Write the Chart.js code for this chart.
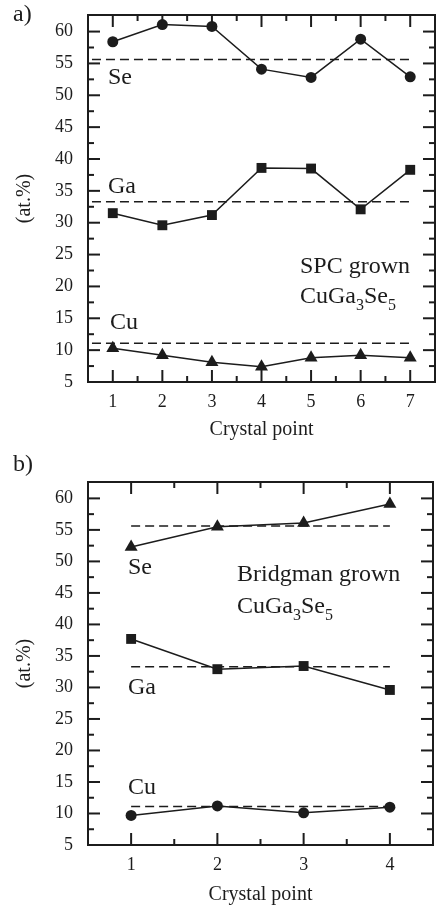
<!DOCTYPE html>
<html>
<head>
<meta charset="utf-8">
<script src="https://cdn.jsdelivr.net/npm/chart.js@4.4.0/dist/chart.umd.min.js"></script>
<style>
  html, body { margin: 0; padding: 0; background: #fff; }
  #wrap { position: relative; width: 436px; height: 907px; }
  .panel { position: absolute; left: 0; width: 436px; }
  #pa { top: 0; height: 450px; }
  #pb { top: 450px; height: 457px; }
</style>
</head>
<body>
<div id="wrap">
  <div class="panel" id="pa"><canvas id="chartA" width="436" height="450"></canvas></div>
  <div class="panel" id="pb"><canvas id="chartB" width="436" height="457"></canvas></div>
</div>
<script>
// a) SPC grown CuGa3Se5, 7 crystal points
const pointsA = [1, 2, 3, 4, 5, 6, 7];
const seA = [58.4, 61.1, 60.8, 54.1, 52.8, 58.8, 52.9];
const gaA = [31.5, 29.6, 31.2, 38.6, 38.5, 32.1, 38.3];
const cuA = [10.3, 9.2, 8.1, 7.4, 8.8, 9.2, 8.8];

// b) Bridgman grown CuGa3Se5, 4 crystal points
const pointsB = [1, 2, 3, 4];
const seB = [52.3, 55.5, 56.1, 59.1];
const gaB = [37.7, 32.9, 33.4, 29.6];
const cuB = [9.7, 11.2, 10.1, 11.0];

// stoichiometric composition (dashed lines) and their x extent
const idealSe = 55.6, idealGa = 33.3, idealCu = 11.1;
const dashA = [0.58, 7];
const dashB = [1, 4];

const yTicks = [5, 10, 15, 20, 25, 30, 35, 40, 45, 50, 55, 60];

const INK = '#1c1c1c';
const SERIF = "'Liberation Serif', 'DejaVu Serif', serif";

function drawRich(ctx, parts, x, y, size) {
  // parts: [text, isSub]
  ctx.textBaseline = 'middle';
  ctx.textAlign = 'left';
  parts.forEach(([t, sub]) => {
    ctx.font = (sub ? Math.round(size * 0.65) : size) + 'px ' + SERIF;
    ctx.fillText(t, x, sub ? y + size * 0.35 : y);
    x += ctx.measureText(t).width;
  });
}

// frame, inward ticks on all four sides, panel texts
const frame = {
  id: 'frame',
  afterDraw(chart, args, o) {
    const { ctx, chartArea: a, scales: { x, y } } = chart;
    ctx.save();
    ctx.strokeStyle = INK;
    ctx.fillStyle = INK;
    ctx.lineWidth = 2;
    ctx.strokeRect(a.left, a.top, a.right - a.left, a.bottom - a.top);
    const tick = (px, py, dx, dy) => {
      ctx.beginPath(); ctx.moveTo(px, py); ctx.lineTo(px + dx, py + dy); ctx.stroke();
    };
    const xt = o.xTicks;
    xt.forEach((v, i) => {
      const px = x.getPixelForValue(v);
      tick(px, a.bottom, 0, -12); tick(px, a.top, 0, 12);
      if (i < xt.length - 1) {
        const m = x.getPixelForValue((v + xt[i + 1]) / 2);
        tick(m, a.bottom, 0, -6); tick(m, a.top, 0, 6);
      }
    });
    yTicks.forEach(v => {
      const py = y.getPixelForValue(v);
      tick(a.left, py, 12, 0); tick(a.right, py, -12, 0);
      if (v + 2.5 < y.max - 0.2) {
        const m = y.getPixelForValue(v + 2.5);
        tick(a.left, m, 6, 0); tick(a.right, m, -6, 0);
      }
    });
    o.texts.forEach(t => drawRich(ctx, t.parts, t.x, t.y, t.size || 24));
    ctx.restore();
  }
};

function line(pts, vals, style, r) {
  return {
    data: pts.map((p, i) => ({ x: p, y: vals[i] })),
    borderColor: INK, backgroundColor: INK, borderWidth: 1.5,
    pointStyle: style, pointRadius: r, pointBorderWidth: 0
  };
}
function dashed(span, v) {
  return {
    data: span.map(p => ({ x: p, y: v })),
    borderColor: INK, borderWidth: 1.5, borderDash: [9, 5], pointRadius: 0
  };
}

function makePanel(id, cfg) {
  return new Chart(document.getElementById(id), {
    type: 'line',
    data: { datasets: cfg.datasets },
    options: {
      responsive: false,
      animation: false,
      layout: { padding: cfg.pad, autoPadding: false },
      plugins: { legend: { display: false }, tooltip: { enabled: false }, frame: { xTicks: cfg.pts, texts: cfg.texts } },
      scales: {
        x: {
          type: 'linear', min: cfg.xMin, max: cfg.xMax,
          afterBuildTicks: s => { s.ticks = cfg.pts.map(v => ({ value: v })); },
          afterFit: s => { s.height = cfg.axisH; s.paddingLeft = 0; s.paddingRight = 0; },
          grid: { display: false, drawTicks: false }, border: { display: false },
          ticks: { color: INK, padding: 9, font: { family: SERIF, size: 18 } },
          title: { display: true, text: 'Crystal point', color: INK, font: { family: SERIF, size: 20 },
                   padding: { top: 0, bottom: cfg.titlePad } }
        },
        y: {
          min: 5, max: 62.6,
          afterBuildTicks: s => { s.ticks = yTicks.map(v => ({ value: v })); },
          afterFit: s => { s.width = 88; s.paddingTop = 0; s.paddingBottom = 0; },
          grid: { display: false, drawTicks: false }, border: { display: false },
          ticks: { color: INK, padding: 15, font: { family: SERIF, size: 18 } },
          title: { display: true, text: '(at.%)', color: INK, font: { family: SERIF, size: 20 },
                   padding: { top: 13, bottom: 0 } }
        }
      }
    },
    plugins: [frame]
  });
}

makePanel('chartA', {
  pts: pointsA, xMin: 0.5, xMax: 7.5, axisH: 68, titlePad: 8,
  pad: { top: 15, right: 1, left: 0, bottom: 0 },
  datasets: [
    dashed(dashA, idealSe), dashed(dashA, idealGa), dashed(dashA, idealCu),
    line(pointsA, seA, 'circle', 5.5),
    line(pointsA, gaA, 'rect', 7),
    line(pointsA, cuA, 'triangle', 7.5)
  ],
  texts: [
    { parts: [['a)', 0]], x: 13, y: 15 },
    { parts: [['Se', 0]], x: 108, y: 78 },
    { parts: [['Ga', 0]], x: 108, y: 187 },
    { parts: [['Cu', 0]], x: 110, y: 323 },
    { parts: [['SPC grown', 0]], x: 300, y: 267 },
    { parts: [['CuGa', 0], ['3', 1], ['Se', 0], ['5', 1]], x: 300, y: 297 }
  ]
});

makePanel('chartB', {
  pts: pointsB, xMin: 0.5, xMax: 4.5, axisH: 62, titlePad: 0,
  pad: { top: 32, right: 3, left: 0, bottom: 0 },
  datasets: [
    dashed(dashB, idealSe), dashed(dashB, idealGa), dashed(dashB, idealCu),
    line(pointsB, seB, 'triangle', 7.5),
    line(pointsB, gaB, 'rect', 7),
    line(pointsB, cuB, 'circle', 5.5)
  ],
  texts: [
    { parts: [['b)', 0]], x: 13, y: 15 },
    { parts: [['Se', 0]], x: 128, y: 118 },
    { parts: [['Bridgman grown', 0]], x: 237, y: 125 },
    { parts: [['CuGa', 0], ['3', 1], ['Se', 0], ['5', 1]], x: 237, y: 157 },
    { parts: [['Ga', 0]], x: 128, y: 238 },
    { parts: [['Cu', 0]], x: 128, y: 338 }
  ]
});
</script>
</body>
</html>
